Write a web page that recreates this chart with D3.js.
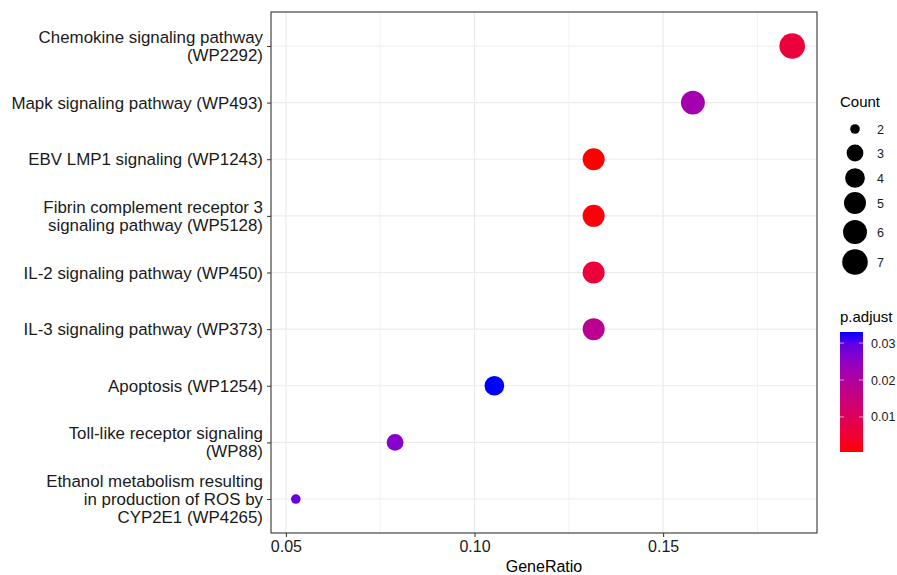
<!DOCTYPE html>
<html>
<head>
<meta charset="utf-8">
<script src="https://cdn.jsdelivr.net/npm/d3@7"></script>
<style>
body { margin: 0; background: #fff; }
text { font-family: "Liberation Sans", Arial, sans-serif; }
</style>
</head>
<body>
<div id="chart"></div>
<script>
var svgWidth = 897;
var svgHeight = 575;

// data, top row first
var pathways = [
	"Chemokine signaling pathway\n(WP2292)",
	"Mapk signaling pathway (WP493)",
	"EBV LMP1 signaling (WP1243)",
	"Fibrin complement receptor 3\nsignaling pathway (WP5128)",
	"IL-2 signaling pathway (WP450)",
	"IL-3 signaling pathway (WP373)",
	"Apoptosis (WP1254)",
	"Toll-like receptor signaling\n(WP88)",
	"Ethanol metabolism resulting\nin production of ROS by\nCYP2E1 (WP4265)"
];
var geneRatio = [7/38, 6/38, 5/38, 5/38, 5/38, 5/38, 4/38, 3/38, 2/38];
var counts = [7, 6, 5, 5, 5, 5, 4, 3, 2];
var pAdjust = [0.0060, 0.0220, 0.0005, 0.0010, 0.0058, 0.0180, 0.0330, 0.0260, 0.0290];

var xTicks = [0.05, 0.10, 0.15];
var xMinor = [0.075, 0.125, 0.175];
var countLegend = [2, 3, 4, 5, 6, 7];
var pTicks = [0.01, 0.02, 0.03];

var data = pathways.map((p, i) => ({
	pathway: p, ratio: geneRatio[i], count: counts[i], p: pAdjust[i]
}));

var panel = {left: 271, right: 817, top: 12, bottom: 533};

var svg = d3.select("#chart")
	.append("svg")
	.attr("width", svgWidth)
	.attr("height", svgHeight);

var xExt = d3.extent(geneRatio);
var pad = (xExt[1] - xExt[0]) * 0.05;
var x = d3.scaleLinear()
	.domain([xExt[0] - pad, xExt[1] + pad])
	.range([panel.left, panel.right]);

var y = d3.scalePoint()
	.domain(pathways)
	.range([panel.top, panel.bottom])
	.padding(0.6);

// ggplot-like area size scale (range 3..8)
var sizeNorm = d3.scaleLinear().domain([0, Math.sqrt(5)]).range([3, 8]);
function radius(c) { return 1.6 * sizeNorm(Math.sqrt(c - 2)); }

var pExt = [0.0005, 0.033];
var color = d3.scaleLinear()
	.domain(pExt)
	.range(["red", "blue"])
	.interpolate(d3.interpolateLab);

// grid
var grid = svg.append("g");
grid.selectAll(".minor").data(xMinor).enter().append("line")
	.attr("x1", d => x(d)).attr("x2", d => x(d))
	.attr("y1", panel.top).attr("y2", panel.bottom)
	.attr("stroke", "#f2f2f2").attr("stroke-width", 1);
grid.selectAll(".major").data(xTicks).enter().append("line")
	.attr("x1", d => x(d)).attr("x2", d => x(d))
	.attr("y1", panel.top).attr("y2", panel.bottom)
	.attr("stroke", "#ebebeb").attr("stroke-width", 1.2);
grid.selectAll(".hmajor").data(pathways).enter().append("line")
	.attr("x1", panel.left).attr("x2", panel.right)
	.attr("y1", d => y(d)).attr("y2", d => y(d))
	.attr("stroke", "#ebebeb").attr("stroke-width", 1.2);

// points
svg.selectAll("circle.pt")
	.data(data)
	.enter()
	.append("circle")
	.attr("class", "pt")
	.attr("cx", d => x(d.ratio))
	.attr("cy", d => y(d.pathway))
	.attr("r", d => radius(d.count))
	.style("fill", d => color(d.p));

// panel border
svg.append("rect")
	.attr("x", panel.left).attr("y", panel.top)
	.attr("width", panel.right - panel.left)
	.attr("height", panel.bottom - panel.top)
	.attr("fill", "none").attr("stroke", "#333").attr("stroke-width", 1.1);

// x axis
var xAxis = svg.append("g")
	.attr("transform", "translate(0," + panel.bottom + ")")
	.call(d3.axisBottom(x).tickValues(xTicks).tickFormat(d3.format(".2f")).tickSize(4).tickPadding(4));
xAxis.select(".domain").remove();
xAxis.selectAll("line").attr("stroke", "#333");
xAxis.selectAll("text").attr("fill", "#1a1a1a").style("font-size", "16px")
	.style("font-family", "Liberation Sans, Arial, sans-serif");

// y axis
var yAxis = svg.append("g")
	.attr("transform", "translate(" + panel.left + ",0)")
	.call(d3.axisLeft(y).tickSize(4).tickFormat(""));
yAxis.select(".domain").remove();
yAxis.selectAll("line").attr("stroke", "#333");

var lineH = 18;
svg.selectAll("text.ylab")
	.data(pathways)
	.enter()
	.append("text")
	.attr("class", "ylab")
	.attr("text-anchor", "end")
	.attr("fill", "#1a1a1a")
	.style("font-size", "16.9px")
	.each(function (d) {
		var lines = d.split("\n");
		var t = d3.select(this);
		var y0 = y(d) - (lines.length - 1) * lineH / 2;
		lines.forEach((l, i) => {
			t.append("tspan")
				.attr("x", 263)
				.attr("y", y0 + i * lineH)
				.attr("dy", "0.36em")
				.text(l);
		});
	});

svg.append("text")
	.attr("x", (panel.left + panel.right) / 2)
	.attr("y", 572)
	.attr("text-anchor", "middle")
	.style("font-size", "16px")
	.attr("fill", "#000")
	.text("GeneRatio");

// Count legend
var legX = 855;
var legYs = [129, 153, 178, 203, 232, 262];
svg.append("text")
	.attr("x", 840).attr("y", 107)
	.style("font-size", "15px")
	.text("Count");
svg.selectAll("circle.leg")
	.data(countLegend)
	.enter()
	.append("circle")
	.attr("class", "leg")
	.attr("cx", legX)
	.attr("cy", (d, i) => legYs[i])
	.attr("r", d => radius(d))
	.attr("fill", "#000");
svg.selectAll("text.legl")
	.data(countLegend)
	.enter()
	.append("text")
	.attr("class", "legl")
	.attr("x", 877)
	.attr("y", (d, i) => legYs[i])
	.attr("dy", "0.36em")
	.style("font-size", "12.5px")
	.attr("fill", "#1a1a1a")
	.text(d => d);

// p.adjust colorbar
var cb = {x: 840, w: 23, top: 332, bottom: 452};
svg.append("text")
	.attr("x", 840).attr("y", 322)
	.style("font-size", "15px")
	.text("p.adjust");

var defs = svg.append("defs");
var grad = defs.append("linearGradient")
	.attr("id", "pgrad")
	.attr("x1", 0).attr("x2", 0).attr("y1", 1).attr("y2", 0);
d3.range(0, 1.0001, 0.1).forEach(t => {
	grad.append("stop")
		.attr("offset", t)
		.attr("stop-color", color(pExt[0] + t * (pExt[1] - pExt[0])));
});
svg.append("rect")
	.attr("x", cb.x).attr("y", cb.top)
	.attr("width", cb.w).attr("height", cb.bottom - cb.top)
	.attr("fill", "url(#pgrad)");

var pScale = d3.scaleLinear().domain(pExt).range([cb.bottom, cb.top]);
pTicks.forEach(v => {
	svg.append("line")
		.attr("x1", cb.x).attr("x2", cb.x + 4)
		.attr("y1", pScale(v)).attr("y2", pScale(v))
		.attr("stroke", "#fff").attr("stroke-opacity", 0.6);
	svg.append("line")
		.attr("x1", cb.x + cb.w - 4).attr("x2", cb.x + cb.w)
		.attr("y1", pScale(v)).attr("y2", pScale(v))
		.attr("stroke", "#fff").attr("stroke-opacity", 0.6);
	svg.append("text")
		.attr("x", 871)
		.attr("y", pScale(v))
		.attr("dy", "0.36em")
		.style("font-size", "12.5px")
		.attr("fill", "#1a1a1a")
		.text(d3.format(".2f")(v));
});
</script>
</body>
</html>
